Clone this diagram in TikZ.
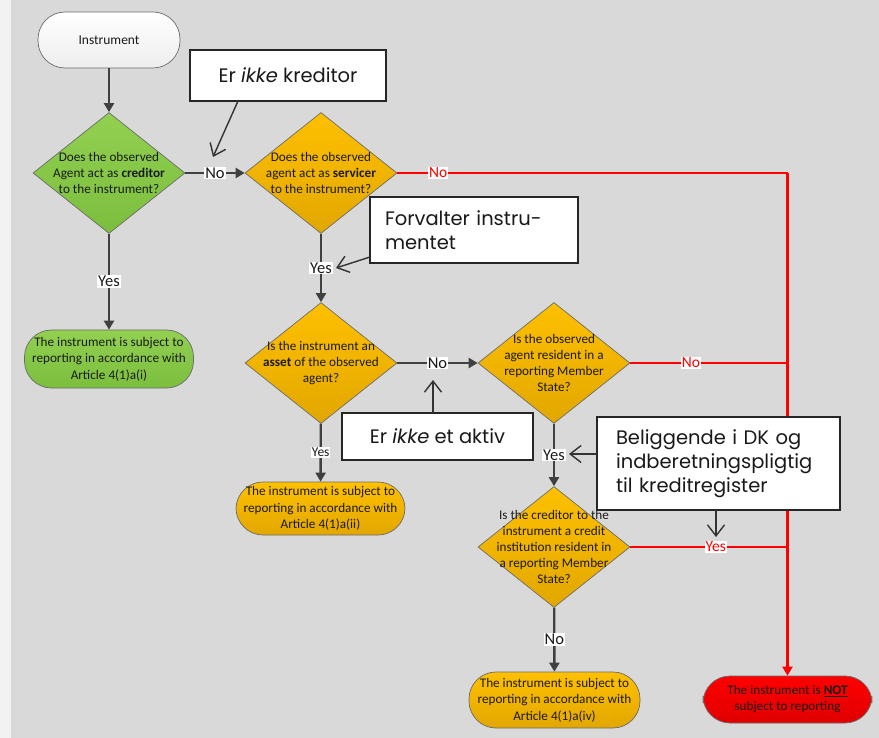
\documentclass[tikz,border=0pt]{standalone}
\usepackage{fontspec}
\setmainfont{Carlito}
\newfontfamily\callfont{Poppins}
\usetikzlibrary{shapes.geometric,arrows.meta,calc}
\definecolor{bggray}{HTML}{D9D9D9}
\definecolor{strip}{HTML}{F2F2F2}
\definecolor{flowgray}{HTML}{404040}
\definecolor{edgegray}{HTML}{6B6B6B}
\definecolor{orTop}{HTML}{FFC000}
\definecolor{orBot}{HTML}{E2A700}
\definecolor{grTop}{HTML}{92D050}
\definecolor{grBot}{HTML}{7BBE3E}
\definecolor{rdTop}{HTML}{FF0000}
\definecolor{rdBot}{HTML}{E00000}
\definecolor{txt}{HTML}{1A1A1A}
\begin{document}
\begin{tikzpicture}[x=1pt,y=-1pt,
  dia/.style={diamond, draw=edgegray, line width=0.7pt, inner sep=0pt, minimum width=152pt, minimum height=121pt},
  dor/.style={dia, top color=orTop, bottom color=orBot},
  dgr/.style={dia, top color=grTop, bottom color=grBot},
  dtext/.style={align=center, text=txt, font=\fontsize{13.2}{15.8}\selectfont, inner sep=0pt},
  pill/.style={rectangle, rounded corners=27pt, draw=edgegray, line width=0.7pt, minimum width=169pt, minimum height=55pt, align=center, text=txt, font=\fontsize{13.2}{16.5}\selectfont, inner sep=0pt},
  flow/.style={draw=flowgray, line width=2.4pt, -{Triangle[length=9pt,width=10pt]}},
  redflow/.style={draw=red, line width=2.2pt},
  lbl/.style={fill=white, inner sep=1pt, text=txt, font=\fontsize{16.5}{18}\selectfont},
  lblsmall/.style={fill=white, inner sep=1pt, text=txt, font=\fontsize{13.5}{15}\selectfont},
  rlbl/.style={fill=white, inner sep=1pt, text=red, font=\fontsize{15.5}{17}\selectfont},
  callout/.style={rectangle, draw=black!85, line width=1.4pt, fill=white, text=black!90, font=\callfont\fontsize{19.5}{24}\selectfont, inner sep=0pt},
  callarrow/.style={draw=black!80, line width=1.4pt, -{Straight Barb[length=11pt,width=17pt,line width=1.4pt]}}
]
\useasboundingbox (0,0) rectangle (879,738);
\fill[strip] (0,0) rectangle (11,738);
\fill[bggray] (11,0) rectangle (879,738);

% start
\node[pill, minimum width=142pt, minimum height=56pt, top color=white, bottom color=white!93!black, font=\fontsize{13.5}{15}\selectfont] (start) at (109,40) {Instrument};

% diamonds
\node[dgr] (d1) at (109,173) {};
\node[dtext] (d1t) at (d1) {Does the observed\\Agent act as \textbf{creditor}\\to the instrument?};
\node[dor] (d2) at (321,173) {};
\node[dtext] (d2t) at (d2) {Does the observed\\agent act as \textbf{servicer}\\to the instrument?};
\node[dor] (d3) at (321,363) {};
\node[dtext] (d3t) at (d3) {Is the instrument an\\\textbf{asset} of the observed\\agent?};
\node[dor] (d4) at (554,363) {};
\node[dtext] (d4t) at (d4) {Is the observed\\agent resident in a\\reporting Member\\State?};
\node[dor] (d5) at (554,547) {};
\node[dtext] (d5t) at (d5) {Is the creditor to the\\instrument a credit\\institution resident in\\a reporting Member\\State?};

% terminal pills
\node[pill, top color=grTop, bottom color=grBot, minimum height=58pt] (p1) at (109,359) {The instrument is subject to\\reporting in accordance with\\Article 4(1)a(i)};
\node[pill, top color=orTop, bottom color=orBot, minimum height=53pt] (p2) at (320.5,508.5) {The instrument is subject to\\reporting in accordance with\\Article 4(1)a(ii)};
\node[pill, top color=orTop, bottom color=orBot, minimum height=56pt, minimum width=171pt] (p3) at (554.5,700) {The instrument is subject to\\reporting in accordance with\\Article 4(1)a(iv)};
\node[pill, top color=rdTop, bottom color=rdBot, minimum height=47pt, font=\fontsize{13.2}{16}\selectfont] (nr) at (787.5,699.5) {The instrument is \underline{\textbf{NOT}}\\subject to reporting};

% flow connectors
\draw[flow] (start) -- (d1);
\draw[flow] (d1) -- node[lbl] (l1) {No} (d2);
\draw[flow] (d1) -- node[lbl] (l2) {Yes} (p1);
\draw[flow] (d2) -- node[lbl] (l3) {Yes} (d3);
\draw[flow] (d3) -- node[lbl] (l4) {No} (d4);
\draw[flow] (d3) -- node[lblsmall] (l5) {Yes} (p2);
\draw[flow] (d4) -- node[lbl] (l6) {Yes} (d5);
\draw[flow] (d5) -- node[lbl] (l7) {No} (p3);

% red connectors
\coordinate (rtop) at (d2.east -| nr.north);
\draw[redflow] (d2.east) -- node[rlbl, pos=0.105] (r1) {No} (rtop);
\draw[redflow, -{Triangle[length=9pt,width=10pt]}] (rtop) -- (nr.north);
\draw[redflow] (d4.east) -- node[rlbl, pos=0.386] (r2) {No} (d4.east -| nr.north);
\draw[redflow] (d5.east) -- node[rlbl, pos=0.544] (r3) {Yes} (d5.east -| nr.north);

% callouts
\node[callout, minimum width=196pt, minimum height=51pt] (c1) at (288,75.5) {Er \textit{ikke} kreditor};
\node[callout, minimum width=208pt, minimum height=66pt, align=left, text width=178pt] (c2) at (474,230) {Forvalter instru-\\mentet};
\node[callout, minimum width=191pt, minimum height=47pt] (c3) at (437.5,436.5) {Er \textit{ikke} et aktiv};
\node[callout, minimum width=243pt, minimum height=93pt, align=left, text width=205pt] (c4) at (718.5,463.5) {Beliggende i DK og\\indberetningspligtig\\til kreditregister};

\coordinate (c1a) at (238,101);
\coordinate (c1b) at (213,157);
\draw[callarrow] (c1a) -- (c1b);
\coordinate (c2a) at (370,257);
\coordinate (c2b) at (336,268);
\draw[callarrow] (c2a) -- (c2b);
\coordinate (c3a) at (433,413);
\coordinate (c3b) at (433,380);
\draw[callarrow] (c3a) -- (c3b);
\coordinate (c4a) at (597,454);
\coordinate (c4b) at (569,454);
\draw[callarrow] (c4a) -- (c4b);
\coordinate (c4c) at (716,510);
\coordinate (c4d) at (716,537);
\draw[callarrow] (c4c) -- (c4d);
\end{tikzpicture}
\end{document}
